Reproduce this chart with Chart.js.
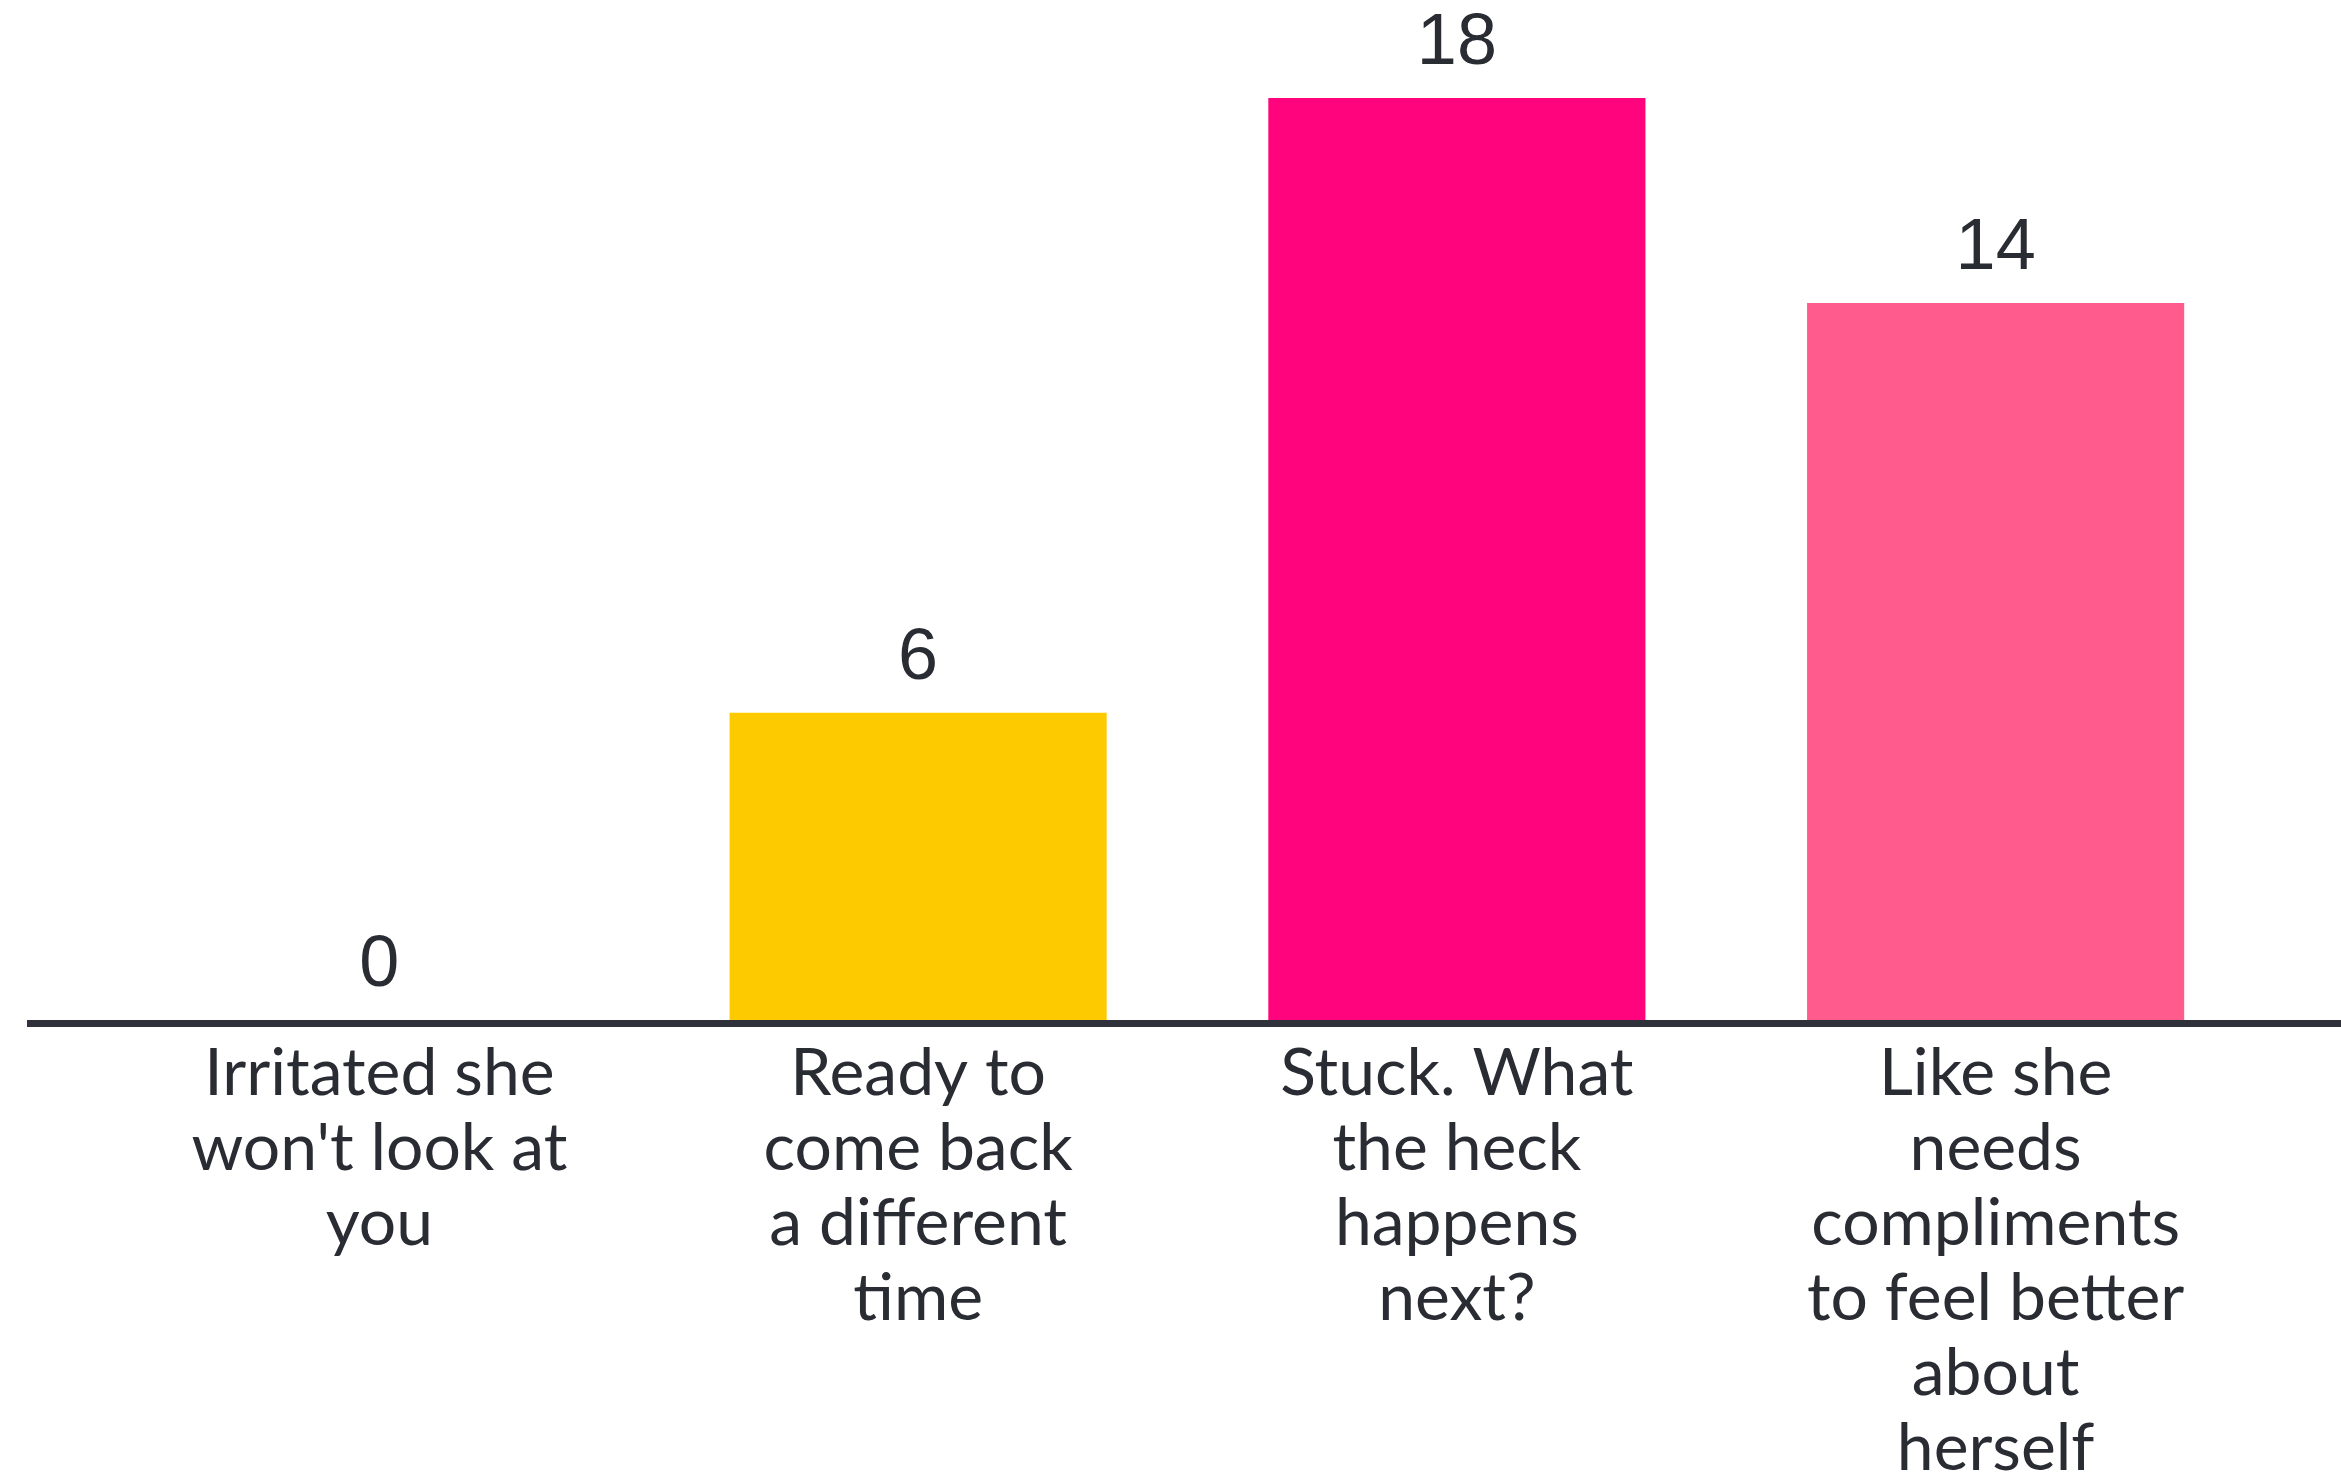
<!DOCTYPE html>
<html>
<head>
<meta charset="utf-8">
<title>Poll results</title>
<script src="https://cdn.jsdelivr.net/npm/chart.js@4/dist/chart.umd.min.js"></script>
<style>
  html, body { margin: 0; padding: 0; background: #ffffff; }
  #wrap { width: 2341px; height: 1484px; }
</style>
</head>
<body>
<div id="wrap"><canvas id="poll" width="2341" height="1484"></canvas></div>
<script>
// answer options, one array per wrapped label
const categories = [
  ["Irritated she", "won't look at", "you"],
  ["Ready to", "come back", "a different", "time"],
  ["Stuck. What", "the heck", "happens", "next?"],
  ["Like she", "needs", "compliments", "to feel better", "about", "herself"]
];
const votes = [0, 6, 18, 14];
const palette = ["#ffffff", "#fdca00", "#ff047d", "#ff5b8c"];

const textColor = "#2a2c33";
const axisColor = "#2f323a";

// vote count above every bar
const valueLabels = {
  id: "valueLabels",
  afterDatasetsDraw(chart) {
    const ctx = chart.ctx;
    const meta = chart.getDatasetMeta(0);
    ctx.save();
    ctx.font = "72px 'Liberation Sans', Arial, sans-serif";
    ctx.fillStyle = textColor;
    ctx.textAlign = "center";
    ctx.textBaseline = "alphabetic";
    meta.data.forEach((bar, i) => {
      ctx.fillText(String(votes[i]), bar.x, bar.y - 34);
    });
    ctx.restore();
  }
};

// thick baseline running across the whole width
const baseLine = {
  id: "baseLine",
  afterDatasetsDraw(chart) {
    const ctx = chart.ctx;
    const y = chart.scales.y.getPixelForValue(0);
    ctx.save();
    ctx.fillStyle = axisColor;
    ctx.fillRect(27, y, chart.width - 27, 7);
    ctx.restore();
  }
};

const chart = new Chart(document.getElementById("poll"), {
  type: "bar",
  data: {
    labels: categories,
    datasets: [{
      data: votes,
      backgroundColor: palette,
      borderWidth: 0,
      categoryPercentage: 1,
      barPercentage: 0.7
    }]
  },
  options: {
    responsive: false,
    animation: false,
    layout: { padding: { top: 98, left: 110, right: 76, bottom: 0 } },
    plugins: {
      legend: { display: false },
      tooltip: { enabled: false }
    },
    scales: {
      x: {
        grid: { display: false, drawTicks: false },
        border: { display: false },
        ticks: {
          color: textColor,
          padding: 16,
          maxRotation: 0,
          autoSkip: false,
          font: { family: "Lato, 'Noto Sans', sans-serif", size: 66, lineHeight: "75px" }
        },
        afterFit(scale) {
          scale.height = 464;
        }
      },
      y: {
        display: false,
        min: 0,
        max: 18
      }
    }
  },
  plugins: [valueLabels, baseLine]
});
</script>
</body>
</html>
